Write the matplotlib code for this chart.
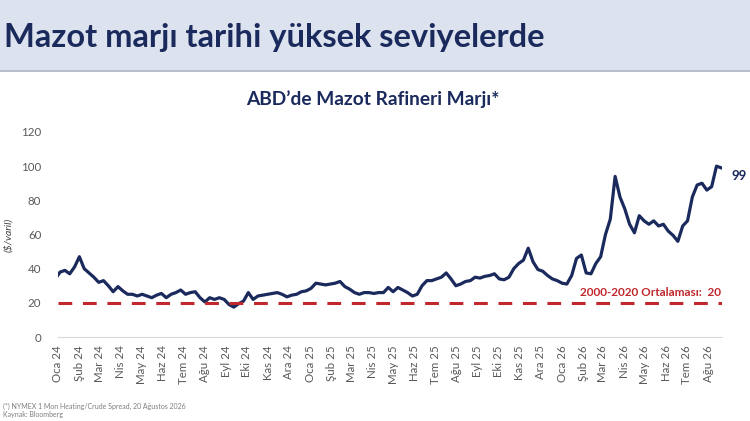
import numpy as np
import pandas as pd
import matplotlib.pyplot as plt
import matplotlib.dates as mdates
from matplotlib.patches import Rectangle

plt.rcParams['font.family'] = ['Lato', 'DejaVu Sans']

# haftalik marj degerleri ($/varil), 2024 basi - 20 Agustos 2026
marj_2024 = [34, 38, 39, 37, 41, 47, 40, 37.5, 35, 32, 33, 30, 26.5, 29.5, 27,
             25, 25, 24, 25, 24, 23, 24.5, 25.5, 23, 25, 26, 27.5, 25, 26, 26.5,
             23, 20.5, 23, 22, 23, 22, 19, 17.5, 19.5, 21, 26, 22, 24, 24.5, 25,
             25.5, 26, 25, 23.5, 24.5, 25, 26.5]
marj_2025 = [27, 28.5, 31.5, 31, 30.5, 31, 31.5, 32.5, 29.5, 28, 26, 25, 26,
             26, 25.5, 26, 26, 29, 26.5, 29, 27.5, 26, 24, 25, 30, 33, 33, 34,
             35, 37.5, 34, 30, 31, 32.5, 33, 35, 34.5, 35.5, 36, 37, 34, 33.5,
             35, 40, 43, 45, 52, 44, 39.5, 38.5, 36, 34]
marj_2026 = [33, 31.5, 31, 36, 46, 48, 37.5, 37, 43, 47, 60, 69, 94, 82, 75,
             66, 61, 71, 68, 66, 68, 65, 66, 62, 59.5, 56, 65, 68, 82, 89, 90,
             86, 88, 100]
son_deger = 99
ortalama = 20

aylar = ['Oca', 'Şub', 'Mar', 'Nis', 'May', 'Haz', 'Tem', 'Ağu', 'Eyl', 'Eki', 'Kas', 'Ara']

marj = marj_2024 + marj_2025 + marj_2026 + [son_deger]
tarih = pd.date_range(end='2026-08-20', periods=len(marj), freq='7D')

lacivert = '#1b2a5c'
kirmizi = '#c0282d'

fig = plt.figure(figsize=(7.5, 4.21), dpi=100)

# ust baslik bandi
fig.patches.append(Rectangle((0, 1 - 70/421), 1, 70/421, transform=fig.transFigure,
                             facecolor='#dce3ef', edgecolor='none', zorder=0))
fig.patches.append(Rectangle((0, 1 - 72/421), 1, 2/421, transform=fig.transFigure,
                             facecolor='#b9c0cc', edgecolor='none', zorder=0))
fig.text(0.006, 1 - 38/421, 'Mazot marjı tarihi yüksek seviyelerde', fontsize=23.5,
         fontweight='bold', color=lacivert, va='center', ha='left')
fig.text(0.497, 1 - 99/421, 'ABD’de Mazot Rafineri Marjı*', fontsize=13.8,
         fontweight='bold', color=lacivert, va='center', ha='center')

ax = fig.add_axes([58/750, 1 - 337/421, (722 - 58)/750, (337 - 132)/421])
ax.plot(tarih, marj, color=lacivert, lw=2.3, solid_joinstyle='round')
ax.axhline(ortalama, color=kirmizi, lw=2.2, ls=(0, (4.5, 3.5)))
ax.text(tarih[-1], ortalama + 6, '2000-2020 Ortalaması:  ' + str(ortalama), color=kirmizi,
        fontsize=8.5, fontweight='bold', ha='right', va='center')
ax.annotate(str(son_deger), (tarih[-1], son_deger), xytext=(7, -6), textcoords='offset points',
            color=lacivert, fontsize=9.5, fontweight='bold', ha='left', va='center',
            annotation_clip=False)

ax.set_ylim(0, 120)
ax.set_yticks(range(0, 121, 20))
ax.set_xlim(pd.Timestamp('2024-01-01'), pd.Timestamp('2026-08-21'))
aybaslari = pd.date_range('2024-01-01', '2026-08-01', freq='MS')
ax.set_xticks(aybaslari)
ax.set_xticklabels([f'{aylar[d.month - 1]} {d.year % 100}' for d in aybaslari], rotation=90)
ax.tick_params(axis='both', length=0, colors='#595959', labelsize=8.3)
ax.tick_params(axis='x', pad=6)
ax.tick_params(axis='y', pad=12)
for s in ['top', 'right', 'left']:
    ax.spines[s].set_visible(False)
ax.spines['bottom'].set_color('#d9d9d9')
ax.set_ylabel('($/varil)', fontsize=7.5, style='italic', color='#404040', labelpad=6)

fig.text(0.004, 1 - 406/421, '(*) NYMEX 1 Mon Heating/Crude Spread, 20 Ağustos 2026',
         fontsize=5, color='#7f7f7f', va='center')
fig.text(0.004, 1 - 414/421, 'Kaynak: Bloomberg', fontsize=5, color='#7f7f7f', va='center')

fig.savefig('out.png', dpi=100)
